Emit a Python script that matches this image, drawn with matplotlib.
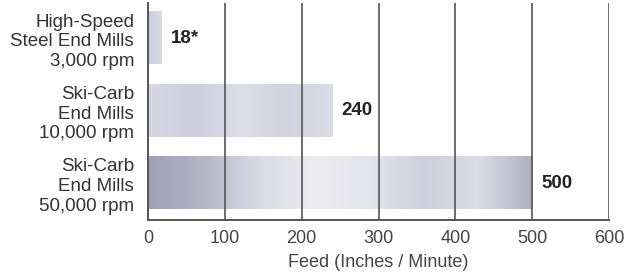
import matplotlib
matplotlib.use("Agg")
import matplotlib.pyplot as plt
import numpy as np
from matplotlib.colors import LinearSegmentedColormap

categories = ["High-Speed\nSteel End Mills\n3,000 rpm",
              "Ski-Carb\nEnd Mills\n10,000 rpm",
              "Ski-Carb\nEnd Mills\n50,000 rpm"]
values = [18, 240, 500]
value_labels = ["18*", "240", "500"]
xticks = [0, 100, 200, 300, 400, 500, 600]
xlabel = "Feed (Inches / Minute)"

plt.rcParams["font.family"] = ["Liberation Sans", "DejaVu Sans"]

fig = plt.figure(figsize=(6.25, 2.73), dpi=100)
ax = fig.add_axes([0.2368, 0.194, 0.9744 - 0.2368, 0.989 - 0.194])

ypos = np.arange(len(categories))
h = 0.72

cmaps = [
    LinearSegmentedColormap.from_list("b0", ["#c9c9dc", "#d4d4e3", "#dcdce6"]),
    LinearSegmentedColormap.from_list("b1", ["#d8d8e4", "#cdcdde", "#dedee8", "#d2d2e0", "#dcdce6"]),
    LinearSegmentedColormap.from_list("b2", ["#a0a0b6", "#b5b5c8", "#dadae5", "#ececf0", "#e4e4ec", "#d0d0de", "#dcdce6", "#b0b0c3"]),
]
grad = np.linspace(0, 1, 256).reshape(1, -1)
bars = ax.barh(ypos, values, height=h, color="none", edgecolor="none", zorder=2)
for i, v in enumerate(values):
    ax.imshow(grad, cmap=cmaps[i], aspect="auto",
              extent=[0, v, ypos[i] + h / 2, ypos[i] - h / 2], zorder=2,
              interpolation="bicubic")
    ax.text(v + 12, ypos[i], value_labels[i],
            va="center", ha="left", fontsize=13.5, fontweight="bold", color="#222222")
ax.set_xlim(0, 600)
ax.set_ylim(2.51, -0.49)

for x in xticks[1:]:
    ax.axvline(x, color="#555555", lw=1.2, zorder=3)

ax.set_yticks(ypos)
ax.set_yticklabels(categories, fontsize=13.5, color="#333333", linespacing=1.2)
ax.set_xticks(xticks)
ax.set_xticklabels([str(t) for t in xticks], fontsize=13, color="#444444")
ax.tick_params(length=0)
ax.tick_params(axis="x", pad=7)
ax.tick_params(axis="y", pad=10)
ax.set_xlabel(xlabel, fontsize=13, color="#444444", labelpad=5)

for s in ["top", "right"]:
    ax.spines[s].set_visible(False)
for s in ["left", "bottom"]:
    ax.spines[s].set_color("#555555")
    ax.spines[s].set_linewidth(1.4)

fig.savefig("out.png", dpi=100)
